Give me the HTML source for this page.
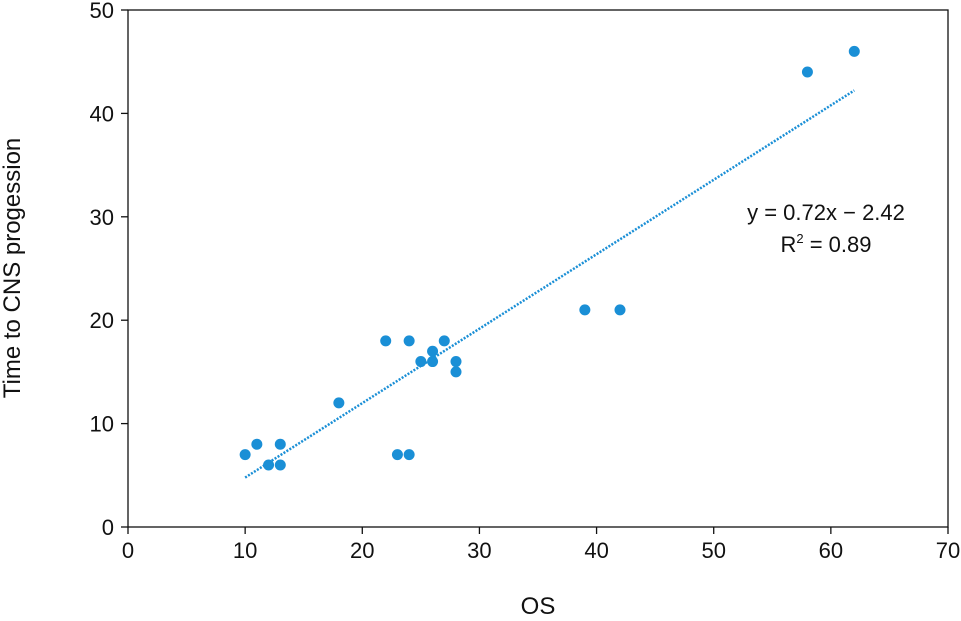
<!DOCTYPE html>
<html><head><meta charset="utf-8"><style>
body{margin:0;background:#fff;}
svg text{font-family:"Liberation Sans",sans-serif;fill:#111;}
</style></head><body>
<svg id="chart" width="961" height="616" xmlns="http://www.w3.org/2000/svg"></svg>
<script>
const xs=[10,11,12,13,13,18,22,23,24,24,25,26,26,27,28,28,39,42,58,62];
const ys=[7,8,6,6,8,12,18,7,7,18,16,16,17,18,16,15,21,21,44,46];
const xTicks=[0,10,20,30,40,50,60,70];
const yTicks=[0,10,20,30,40,50];
const slope=0.72, intercept=-2.42;
const L=128,R=948,T=10,B=527;
const sx=v=>L+(v-0)/70*(R-L);
const sy=v=>B-(v-0)/50*(B-T);
const svg=document.getElementById('chart');
const NS='http://www.w3.org/2000/svg';
function mk(tag,attrs,parent){const e=document.createElementNS(NS,tag);for(const k in attrs)e.setAttribute(k,attrs[k]);(parent||svg).appendChild(e);return e;}
let f=mk('rect',{x:L,y:T,width:R-L,height:B-T,fill:'none',stroke:'#111','stroke-width':1.3});


xTicks.forEach(t=>{
  let l=mk('line',{x1:sx(t),x2:sx(t),y1:B,y2:B+7,stroke:'#111','stroke-width':1.3});
  
  
  let tx=mk('text',{x:sx(t),y:B+31,'text-anchor':'middle','font-size':22});
  tx.textContent=t;
  
  
});
yTicks.forEach(t=>{
  let l=mk('line',{x1:L-7,x2:L,y1:sy(t),y2:sy(t),stroke:'#111','stroke-width':1.3});
  
  
  let tx=mk('text',{x:L-14,y:sy(t)+8,'text-anchor':'end','font-size':22});
  tx.textContent=t;
  
  
});
const x0=Math.min(...xs),x1=Math.max(...xs);
let tl=mk('line',{x1:sx(x0),y1:sy(slope*x0+intercept),x2:sx(x1),y2:sy(slope*x1+intercept),stroke:'#1a8fd6','stroke-width':2.5,'stroke-dasharray':'2,1.5'});


xs.forEach((x,i)=>{
  let c=mk('circle',{cx:sx(x),cy:sy(ys[i]),r:5.5,fill:'#1a8fd6'});
  
  
});
let e1=mk('text',{x:826,y:220,'text-anchor':'middle','font-size':22});
e1.textContent='y = 0.72x − 2.42';


let e2=mk('text',{x:826,y:252,'text-anchor':'middle','font-size':22});
e2.innerHTML='R<tspan font-size="13" dy="-9">2</tspan><tspan dy="9"> = 0.89</tspan>';


let xt=mk('text',{x:538,y:614,'text-anchor':'middle','font-size':24});
xt.textContent='OS';


let yt=mk('text',{x:20,y:268,'text-anchor':'middle','font-size':24,transform:'rotate(-90 20 268)'});
yt.textContent='Time to CNS progession';


</script>
</body></html>
